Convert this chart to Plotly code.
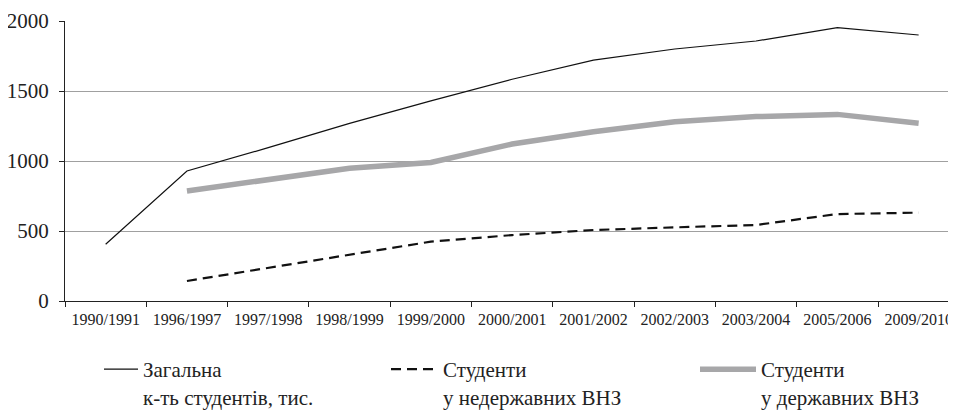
import plotly.graph_objects as go

years = ["1990/1991", "1996/1997", "1997/1998", "1998/1999", "1999/2000",
         "2000/2001", "2001/2002", "2002/2003", "2003/2004", "2005/2006", "2009/2010"]
total = [405, 929, 1095, 1269, 1429, 1584, 1721, 1800, 1857, 1952, 1900]
private = [None, 143, 237, 329, 424, 471, 507, 526, 543, 621, 631]
state = [None, 786, 865, 948, 990, 1121, 1209, 1281, 1317, 1333, 1269]

names = ["Загальна<br>к-ть студентів, тис.",
         "Студенти<br>у недержавних ВНЗ",
         "Студенти<br>у державних ВНЗ"]

FONT = "Liberation Serif, Times New Roman, DejaVu Serif, serif"

fig = go.Figure()
fig.add_trace(go.Scatter(x=years, y=total, mode="lines", name=names[0],
                         line=dict(color="#111111", width=1.2), legend="legend"))
fig.add_trace(go.Scatter(x=years, y=private, mode="lines", name=names[1],
                         line=dict(color="#111111", width=2.2, dash="10px,6px"), legend="legend2"))
fig.add_trace(go.Scatter(x=years, y=state, mode="lines", name=names[2],
                         line=dict(color="#a7a7a9", width=5.5), legend="legend3"))

W, H = 948, 402
L, R, T, B = 57, 0, 13, 109

legend_common = dict(font=dict(family=FONT, size=21, color="#222222"), valign="top",
                     bgcolor="rgba(0,0,0,0)", borderwidth=0, xref="container", yref="container",
                     xanchor="left", yanchor="top", tracegroupgap=0)

LY = 1 - 341 / H
fig.update_layout(
    width=W, height=H,
    margin=dict(l=L, r=R, t=T, b=B, autoexpand=False),
    paper_bgcolor="white", plot_bgcolor="white",
    font=dict(family=FONT, color="#222222"),
    showlegend=True,
    legend=dict(x=91 / W, y=LY, itemwidth=34, **legend_common),
    legend2=dict(x=378 / W, y=LY, itemwidth=47, **legend_common),
    legend3=dict(x=687 / W, y=LY, itemwidth=56, **legend_common),
    xaxis=dict(
        type="category", range=[-0.5, -0.5 + 891 / 81.3],
        showgrid=False, showline=True, linecolor="#222222", linewidth=1.2,
        ticks="outside", tickson="boundaries", ticklen=5, tickcolor="#222222", tickwidth=1.2,
        tickfont=dict(family=FONT, size=16, color="#222222"), tickangle=0,
        ticklabelstandoff=4, fixedrange=True,
    ),
    yaxis=dict(
        range=[0, 2000], tickvals=[0, 500, 1000, 1500, 2000],
        showgrid=True, gridcolor="#a0a0a0", gridwidth=1,
        showline=True, linecolor="#222222", linewidth=1.2,
        ticks="outside", ticklen=5, tickcolor="#222222", tickwidth=1.2,
        tickfont=dict(family=FONT, size=21, color="#222222"),
        ticklabelstandoff=6, zeroline=False, fixedrange=True,
    ),
)

fig.write_html("out.html")
